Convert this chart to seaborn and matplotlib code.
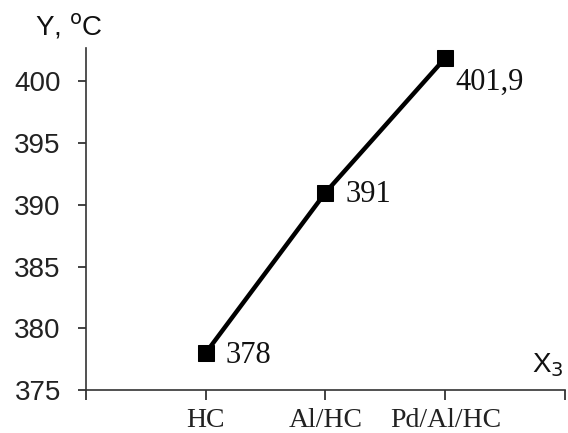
import matplotlib
matplotlib.use('Agg')
import matplotlib.pyplot as plt
import seaborn as sns
import pandas as pd

categories = ['HC', 'Al/HC', 'Pd/Al/HC']
temps = [378, 391, 401.9]
point_labels = ['378', '391', '401,9']

df = pd.DataFrame({'x': categories, 'y': temps})

sns.set_style('white')
plt.rcParams['font.family'] = ['Liberation Sans', 'DejaVu Sans']

fig = plt.figure(figsize=(5.68, 4.33), dpi=100)
ax = fig.add_axes([0.151, 0.099, 0.844, 0.79])

sns.lineplot(data=df, x='x', y='y', ax=ax, color='black', linewidth=3.2,
             marker='s', markersize=11, markeredgecolor='black', sort=False)

# value labels next to the points
offsets = [(20, -2), (20, -2), (10, -24)]
for i, (v, lab) in enumerate(zip(temps, point_labels)):
    ax.annotate(lab, (i, v), xytext=offsets[i], textcoords='offset pixels',
                ha='left', va='center', fontsize=22,
                family='Liberation Serif', color='#111111')

ax.set_xlim(-1, 3)
ax.set_ylim(375, 402.7)
ax.set_xticks([-1, 0, 1, 2, 3])
ax.set_xticklabels(['', 'HC', 'Al/HC', 'Pd/Al/HC', ''],
                   family='Liberation Serif', fontsize=20)
ax.set_yticks([375, 380, 385, 390, 395, 400])
ax.tick_params(axis='y', labelsize=20, length=6, width=1.2, direction='out',
               left=True, colors='#222222', pad=12)
ax.tick_params(axis='x', length=7, width=1.2, direction='out', bottom=True,
               colors='#222222', pad=6)

for s in ['top', 'right']:
    ax.spines[s].set_visible(False)
for s in ['left', 'bottom']:
    ax.spines[s].set_color('#333333')
    ax.spines[s].set_linewidth(1.2)

ax.set_xlabel('')
ax.set_ylabel('')

fig.text(0.062, 0.938, 'Y, $^{\\mathrm{o}}$C', fontsize=20, ha='left', va='center',
         color='#111111')
fig.text(0.937, 0.157, 'X$_{\\mathrm{3}}$', fontsize=20, ha='left', va='center',
         color='#111111')

fig.savefig('out.png', dpi=100)
